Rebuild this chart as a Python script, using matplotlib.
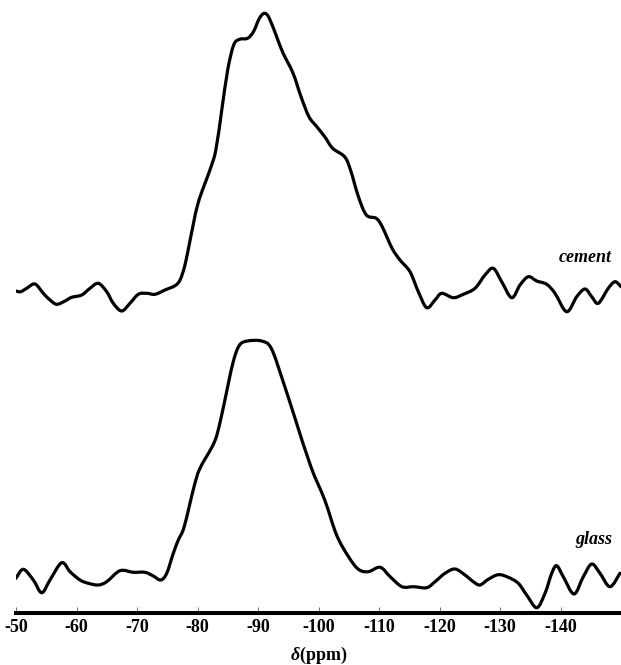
import matplotlib
matplotlib.use("Agg")
import matplotlib.pyplot as plt
from matplotlib.path import Path
from matplotlib.patches import PathPatch

plt.rcParams['font.family'] = 'Liberation Serif'
plt.rcParams['mathtext.fontset'] = 'custom'
plt.rcParams['mathtext.it'] = 'Liberation Serif:italic:bold'
plt.rcParams['mathtext.rm'] = 'Liberation Serif:bold'

# chemical shift (ppm) and intensity, baseline ~ 0
cement_ppm = [-50.0, -50.78, -51.77, -53.14, -54.51, -55.62, -56.73, -58.10, -59.21, -60.86,
              -62.23, -63.60, -64.99, -66.08, -67.47, -68.84, -70.21, -71.60, -72.98, -74.63,
              -76.28, -77.11, -77.93, -78.78, -80.09, -82.05, -83.03, -84.01, -84.99, -85.98,
              -86.96, -88.27, -89.25, -90.23, -91.08, -91.87, -93.18, -94.16, -95.80, -97.11,
              -98.42, -99.72, -101.03, -102.34, -104.31, -105.29, -106.60, -107.91, -109.54, -110.53,
              -112.16, -113.47, -115.12, -116.50, -117.88, -119.26, -120.36, -122.28, -123.93, -125.87,
              -127.52, -128.89, -130.28, -131.93, -133.31, -134.68, -136.07, -137.72, -139.09, -141.02,
              -142.68, -144.05, -145.16, -146.25, -147.90, -149.01, -150.0]
cement_int = [-1, -1.7, 1.7, 6, -3.3, -10, -14.3, -11, -7.3, -5,
              1.7, 6.7, -1.7, -13.3, -21, -13.3, -4.3, -3.3, -4.3, 0,
              4.3, 10, 25, 50, 86.7, 120, 140, 180, 220, 245,
              250.7, 251.7, 258.3, 271.7, 276.7, 271.7, 251.7, 236.7, 216.7, 193.3,
              173.3, 163.3, 153.3, 141.7, 133.3, 120, 93.3, 75, 71.7, 63.3,
              41.7, 30, 18.3, -1.7, -17.7, -10, -3.3, -7.7, -4.3, 1.7,
              15, 21.7, 8.3, -7.7, 5, 13.3, 9, 5.7, -3.3, -21.7,
              -6.7, 1, -6.7, -13.3, 1.7, 8.3, 3.3]

glass_ppm = [-50.0, -51.21, -52.86, -54.25, -55.62, -57.55, -58.93, -60.58, -61.95, -63.60,
             -64.99, -67.19, -69.39, -71.32, -72.69, -73.92, -74.91, -76.0, -76.83, -77.80,
             -79.43, -80.41, -82.70, -83.69, -84.99, -85.98, -86.96, -88.27, -90.56, -92.19,
             -94.16, -96.12, -98.74, -101.03, -102.99, -104.96, -106.60, -108.23, -110.20, -111.84,
             -113.80, -115.77, -117.88, -119.26, -120.91, -122.56, -124.21, -125.59, -126.69, -128.07,
             -129.72, -131.37, -133.02, -134.41, -136.07, -137.44, -138.55, -139.37, -140.46, -142.23,
             -143.77, -145.16, -146.53, -148.18, -149.83]
glass_int = [1.7, 10.7, 0, -12.7, 0, 17.3, 8.3, 0, -3.3, -5,
             -1.7, 9.3, 7.7, 7.7, 4, 0, 6.7, 26.7, 40, 53.3,
             93.3, 111.7, 136.7, 156.7, 193.3, 220, 235, 239, 239, 231.7,
             198.3, 161.7, 113.3, 80, 45, 23.3, 10.7, 8.3, 12.7, 3.3,
             -6.7, -6.7, -7.7, -1.7, 6.7, 11, 5, -1.7, -5, 0.7,
             5.3, 2.7, -3.3, -15, -27.7, -13.3, 6.7, 14.3, 3.3, -14,
             3.3, 16, 6.7, -6.7, 6.7]

tick_vals = [-50, -60, -70, -80, -90, -100, -110, -120, -130, -140]
tick_labels = ['-50', '-60', '-70', '-80', '-90', '-100', '-110', '-120', '-130', '-140']


def smooth_path(xs, ys):
    # Catmull-Rom through the read points, drawn as cubic bezier segments
    pts = list(zip(xs, ys))
    n = len(pts)
    verts = [pts[0]]
    codes = [Path.MOVETO]
    for i in range(n - 1):
        p0 = pts[max(i - 1, 0)]
        p1 = pts[i]
        p2 = pts[i + 1]
        p3 = pts[min(i + 2, n - 1)]
        c1 = (p1[0] + (p2[0] - p0[0]) / 6, p1[1] + (p2[1] - p0[1]) / 6)
        c2 = (p2[0] - (p3[0] - p1[0]) / 6, p2[1] - (p3[1] - p1[1]) / 6)
        verts += [c1, c2, p2]
        codes += [Path.CURVE4] * 3
    return Path(verts, codes)


fig = plt.figure(figsize=(6.21, 6.65), dpi=100)
ax = fig.add_axes([16 / 621, 52 / 665, 1 - 16 / 621, 613 / 665])

cement_y = [v + 323 for v in cement_int]
glass_y = [v + 33 for v in glass_int]
for xs, ys in [(cement_ppm, cement_y), (glass_ppm, glass_y)]:
    ax.add_patch(PathPatch(smooth_path(xs, ys), fill=False, edgecolor='black', lw=2.3,
                           joinstyle='round', capstyle='round'))

ax.text(-148.5, 355, 'cement', ha='right', va='center', fontsize=13, fontweight='bold', fontstyle='italic')
ax.text(-148.5, 73, 'glass', ha='right', va='center', fontsize=13, fontweight='bold', fontstyle='italic')

ax.set_xlim(-50, -150)
ax.set_ylim(0, 613)
for s in ['left', 'right', 'top']:
    ax.spines[s].set_visible(False)
ax.spines['bottom'].set_linewidth(2.9)
ax.set_yticks([])
ax.set_xticks(tick_vals)
ax.set_xticklabels(tick_labels, fontsize=13, fontweight='bold')
ax.tick_params(axis='x', direction='in', length=4, width=0.6, color='#555555', pad=4)
ax.set_xlabel(r'$\delta$(ppm)', fontsize=13, fontweight='bold', labelpad=7)

fig.savefig('out.png', dpi=100)
